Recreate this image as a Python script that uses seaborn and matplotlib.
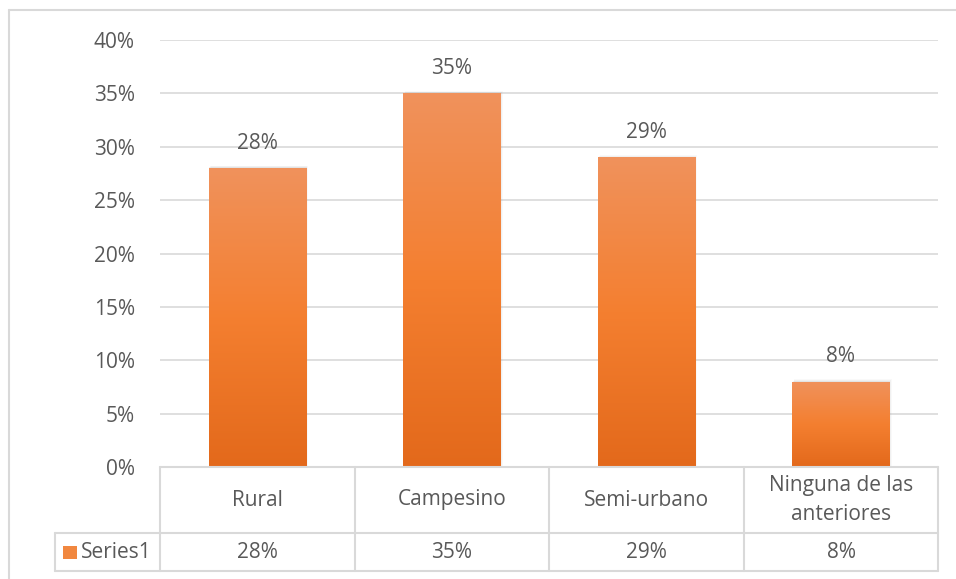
import numpy as np
import pandas as pd
import matplotlib
matplotlib.use("Agg")
import matplotlib.pyplot as plt
import seaborn as sns
from matplotlib.lines import Line2D
from matplotlib.colors import LinearSegmentedColormap
from matplotlib.patches import Rectangle

categories = ["Rural", "Campesino", "Semi-urbano", "Ninguna de las anteriores"]
table_labels = ["Rural", "Campesino", "Semi-urbano", "Ninguna de las\nanteriores"]
values = [0.28, 0.35, 0.29, 0.08]
value_labels = ["28%", "35%", "29%", "8%"]
series_name = "Series1"
yticks = [0, 0.05, 0.10, 0.15, 0.20, 0.25, 0.30, 0.35, 0.40]
ytick_labels = ["0%", "5%", "10%", "15%", "20%", "25%", "30%", "35%", "40%"]

W, H = 956, 579
sns.set_theme(style="white")
plt.rcParams['font.family'] = ['Open Sans', 'DejaVu Sans']
TXT = "#595959"
GRID = "#D9D9D9"
FS = 15

fig = plt.figure(figsize=(W / 100, H / 100), dpi=100)
fig.patch.set_facecolor("white")

def fx(x):
    return x / W

def fy(y):
    return 1 - y / H

L, R, T, B = 160, 938, 40, 467
ax = fig.add_axes([fx(L), fy(B), fx(R) - fx(L), fy(T) - fy(B)])
df = pd.DataFrame({"cat": categories, "val": values})
sns.barplot(data=df, x="cat", y="val", ax=ax, color="#F47F30", width=0.5,
            edgecolor="none", saturation=1)

ax.set_ylim(0, 0.40)
ax.set_xlim(-0.5, 3.5)
ax.set_yticks(yticks)
ax.set_yticklabels(ytick_labels, color=TXT, fontsize=FS)
ax.tick_params(axis="y", length=0, pad=18)
ax.set_xticks([])
ax.set_xlabel("")
ax.set_ylabel("")
for s in ax.spines.values():
    s.set_visible(False)
ax.grid(False)
for t in yticks[1:]:
    ax.axhline(t, color=GRID, lw=1.2, zorder=0)

# gradient fills
cmap = LinearSegmentedColormap.from_list(
    "og", [(0, "#E3691B"), (0.5, "#F47F30"), (1.0, "#F0925C")])
grad = np.linspace(0, 1, 256).reshape(-1, 1)
for p in list(ax.patches):
    x0, w, h = p.get_x(), p.get_width(), p.get_height()
    # soft shadow
    for k, a in enumerate([0.10, 0.07, 0.04]):
        sh = Rectangle((x0 + 0.004 * (k + 1), 0), w, h + 0.0008 * (k + 1),
                       facecolor="#7F7F7F", alpha=a, edgecolor="none", zorder=1)
        ax.add_patch(sh)
    p.set_facecolor("none")
    im = ax.imshow(grad, extent=[x0, x0 + w, 0, h], origin="lower", aspect="auto",
                   cmap=cmap, zorder=2)
    im.set_clip_path(p)
ax.set_xlim(-0.5, 3.5)
ax.set_ylim(0, 0.40)

for i, (v, lab) in enumerate(zip(values, value_labels)):
    ax.annotate(lab, (i, v), xytext=(0, 18), textcoords="offset points",
                ha="center", va="center", color=TXT, fontsize=FS, zorder=5)

# data table
def hline(y, x0, x1):
    fig.add_artist(Line2D([fx(x0), fx(x1)], [fy(y), fy(y)], color=GRID, lw=1.5))

def vline(x, y0, y1):
    fig.add_artist(Line2D([fx(x), fx(x)], [fy(y0), fy(y1)], color=GRID, lw=1.5))

hline(B, L, R)
hline(533, 55, R)
hline(571, 55, R)
cols = [L, 355, 549, 744, R]
for c in cols:
    vline(c, B, 571)
vline(55, 533, 571)

for i in range(4):
    cx = (cols[i] + cols[i + 1]) / 2
    fig.text(fx(cx), fy(500), table_labels[i], ha="center", va="center",
             color=TXT, fontsize=FS, linespacing=1.45)
    fig.text(fx(cx), fy(552), value_labels[i], ha="center", va="center",
             color=TXT, fontsize=FS)

fig.add_artist(Rectangle((fx(63), fy(559)), fx(14), 13 / H,
                         facecolor="#F1873F", edgecolor="none"))
fig.text(fx(81), fy(552), series_name, ha="left", va="center", color=TXT, fontsize=FS)

# outer chart border
fig.add_artist(Line2D([fx(9), fx(9)], [fy(10), 0], color=GRID, lw=1.5))
fig.add_artist(Line2D([fx(9), 1], [fy(10), fy(10)], color=GRID, lw=1.5))

fig.savefig("out.png", dpi=100)
